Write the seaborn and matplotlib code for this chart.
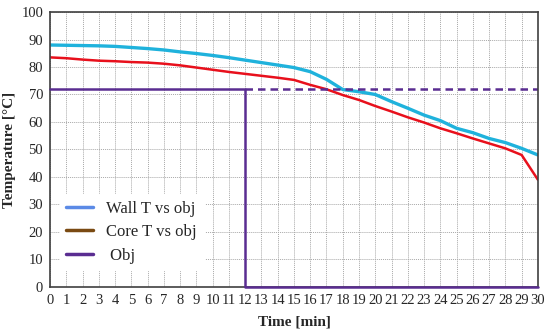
import matplotlib
matplotlib.use('Agg')
import matplotlib.pyplot as plt
import numpy as np
import pandas as pd
import seaborn as sns
from matplotlib.lines import Line2D

# values
time_min = list(range(0, 31))
wall_t = [88.0, 87.9, 87.8, 87.7, 87.5, 87.1, 86.7, 86.2, 85.5, 84.9, 84.2,
          83.4, 82.5, 81.6, 80.7, 79.8, 78.3, 75.5, 71.8, 71.0, 70.0, 67.4,
          65.0, 62.5, 60.5, 57.7, 56.1, 54.0, 52.5, 50.4, 48.0]
core_t = [83.5, 83.2, 82.7, 82.3, 82.1, 81.8, 81.6, 81.2, 80.6, 79.8, 79.0,
          78.2, 77.5, 76.8, 76.1, 75.3, 73.5, 71.9, 69.8, 68.0, 65.8, 63.8,
          61.7, 59.8, 57.7, 55.9, 54.0, 52.2, 50.4, 48.0, 39.0]
obj_time = [0, 12, 12, 30]
obj_val = [72, 72, 0, 0]
obj_dash_time = [12, 30]
obj_dash_val = [72, 72]

wall_df = pd.DataFrame({'time': time_min, 'temp': wall_t})
core_df = pd.DataFrame({'time': time_min, 'temp': core_t})
obj_df = pd.DataFrame({'time': obj_time, 'temp': obj_val})
dash_df = pd.DataFrame({'time': obj_dash_time, 'temp': obj_dash_val})

sns.set_style('white')
plt.rcParams['font.family'] = ['Liberation Serif', 'DejaVu Serif']

fig = plt.figure(figsize=(5.5, 3.34), dpi=100)
ax = fig.add_axes([0.091, 0.141, 0.887, 0.823])

sns.lineplot(x='time', y='temp', data=wall_df, color='#1fb2dc', lw=2.4, ax=ax)
sns.lineplot(x='time', y='temp', data=core_df, color='#e8101c', lw=1.8, ax=ax)
sns.lineplot(x='time', y='temp', data=dash_df, color='#5a2d91', lw=1.8,
             ax=ax, linestyle=(0, (3, 2)))
sns.lineplot(x='time', y='temp', data=obj_df, color='#5a2d91', lw=1.8,
             ax=ax, sort=False, estimator=None, clip_on=False, zorder=5)

ax.set_xlim(0, 30)
ax.set_ylim(0, 100)
ax.set_xticks(range(0, 31))
ax.set_yticks(range(0, 101, 10))
ax.tick_params(labelsize=10.5, length=0, pad=5)
ax.grid(True, color='#a8a8a8', linestyle=(0, (1, 1)), lw=0.7)
for s in ax.spines.values():
    s.set_color('#404040')
    s.set_linewidth(1.2)

ax.set_xlabel('Time [min]', fontsize=11, fontweight='bold')
ax.set_ylabel('Temperature [°C]', fontsize=11, fontweight='bold', labelpad=4)
ax.xaxis.set_label_coords(0.5, -0.105)

handles = [Line2D([], [], color='#5b8ae6', lw=2.5),
           Line2D([], [], color='#7a4a12', lw=2.5),
           Line2D([], [], color='#5a2d91', lw=2.5)]
labels = ['Wall T vs obj', 'Core T vs obj', ' Obj']
leg = ax.legend(handles, labels, loc='lower left', bbox_to_anchor=(0.02, 0.06),
                frameon=True, fontsize=12, handlelength=1.6, labelspacing=0.45,
                borderaxespad=0)
leg.get_frame().set_facecolor('white')
leg.get_frame().set_edgecolor('white')
leg.get_frame().set_alpha(1)

fig.savefig('out.png', dpi=100)
